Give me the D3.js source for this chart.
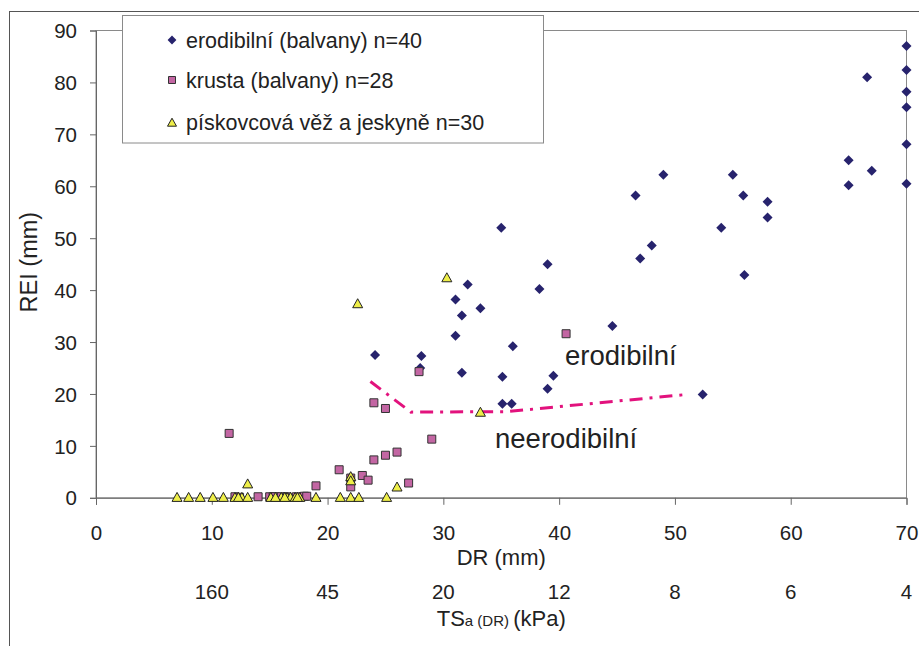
<!DOCTYPE html>
<html><head><meta charset="utf-8">
<script src="https://cdn.jsdelivr.net/npm/d3@7"></script>
<style>
html,body{margin:0;padding:0;background:#fff;}
svg{display:block;font-family:"Liberation Sans",Arial,sans-serif;}
</style></head>
<body>
<svg id="chart" width="919" height="646"></svg>
<script>
// ---- data ----
const erodibilni = [
  [70,87],[70,82.4],[70,78.2],[70,75.2],[70,68.1],[70,60.5],
  [66.6,81],[65,65],[67,63],[65,60.2],
  [49,62.2],[55,62.2],[46.6,58.2],[55.9,58.2],[58,57],[58,54],[54,52],[48,48.6],[47,46.1],
  [56,42.9],[35,52],
  [39,45],[38.3,40.2],[32.1,41.1],[31.05,38.2],[33.2,36.5],[31.6,35.1],[44.6,33.1],[31.05,31.2],
  [36,29.2],[24.1,27.5],[28.1,27.3],[31.6,24.1],[35.1,23.3],[39.5,23.5],[39,21],
  [35.1,18.1],[35.9,18.1],[52.4,19.9],[28,25]
];
const krusta = [
  [40.6,31.6],[27.9,24.3],[24,18.3],[25,17.2],[29,11.3],[24,7.3],[25,8.2],[26,8.8],
  [21,5.4],[23,4.3],[23.5,3.4],[22,2.1],[22,3.8],[27,2.85],[11.5,12.4],[19,2.3],
  [12,0.2],[14,0.2],[15,0.2],[15.5,0.2],[16,0.2],[16.5,0.2],[18,0.3],
  [12.4,0.1],[15.3,0.2],[16.3,0.1],[17.3,0.2],[18.2,0.3]
];
const piskovcova = [
  [7,0],[8,0],[9,0],[10.1,0],[11,0],[12,0],[12.6,0],[13.1,0],[15.1,0],[16,0],
  [16.5,0],[16.8,0],[17.2,0],[17.6,0],[19,0],[21.1,0],[22,0],[22.7,0],[25.1,0],
  [15.5,0],[12.3,0],[16.3,0],
  [13.1,2.6],[22,4.0],[22,3.2],[22.6,37.3],[30.3,42.3],[33.2,16.4],[26,2],[17.4,0]
];
const boundary = [[23.7,22.4],[27.2,16.5],[35.5,16.6],[51,19.9]];
const xTicks = [0,10,20,30,40,50,60,70];
const yTicks = [0,10,20,30,40,50,60,70,80,90];
const tsPositions = [10,20,30,40,50,60,70];
const tsLabels = ["160","45","20","12","8","6","4"];
const legendLabels = ["erodibilní (balvany) n=40","krusta (balvany) n=28","pískovcová věž a jeskyně n=30"];

// ---- drawing ----
const svg = d3.select("#chart");
const X0 = 96, X1 = 906.5, Y0 = 30.5, Y1 = 497.8;
const x = d3.scaleLinear().domain([0,70]).range([X0,X1]);
const y = d3.scaleLinear().domain([0,90]).range([Y1,Y0]);

// outer frame (cropped)
svg.append("line").attr("x1",9.5).attr("x2",9.5).attr("y1",11).attr("y2",646).attr("stroke","#555").attr("stroke-width",1);
svg.append("line").attr("x1",9).attr("x2",919).attr("y1",11.5).attr("y2",11.5).attr("stroke","#555").attr("stroke-width",1);

// plot area border
svg.append("rect").attr("x",X0).attr("y",Y0).attr("width",X1-X0).attr("height",Y1-Y0)
  .attr("fill","none").attr("stroke","#8a8a8a").attr("stroke-width",1);

// axes
const xAxis = svg.append("g").attr("transform",`translate(0,${Y1})`)
  .call(d3.axisBottom(x).tickValues(xTicks).tickSize(7).tickFormat(d3.format("d")));
const yAxis = svg.append("g").attr("transform",`translate(${X0},0)`)
  .call(d3.axisLeft(y).tickValues(yTicks).tickSize(6).tickFormat(d3.format("d")));
[xAxis,yAxis].forEach(g=>{
  g.select(".domain").attr("stroke","#666");
  g.selectAll(".tick line").attr("stroke","#666");
  g.selectAll("text").attr("font-size",20.5).attr("fill","#222").attr("font-family","Liberation Sans, Arial, sans-serif");
});
xAxis.selectAll("text").attr("y",null).attr("dy",null).attr("transform","translate(0,42)");
yAxis.selectAll("text").attr("x",-19).attr("dy","0.35em");

// secondary tick labels
svg.append("g").selectAll("text").data(tsPositions).join("text")
  .attr("x",d=>x(d)).attr("y",599).attr("text-anchor","middle")
  .attr("font-size",20.5).attr("fill","#222").text((d,i)=>tsLabels[i]);

// axis titles
svg.append("text").attr("x",(X0+X1)/2).attr("y",565).attr("text-anchor","middle")
  .attr("font-size",22).attr("fill","#222").text("DR (mm)");
const ts = svg.append("text").attr("x",(X0+X1)/2).attr("y",626).attr("text-anchor","middle")
  .attr("font-size",22).attr("fill","#222");
ts.append("tspan").text("TS");
ts.append("tspan").attr("font-size",15).text("a (DR) ");
ts.append("tspan").text("(kPa)");
svg.append("text").attr("transform",`translate(37,${(Y0+Y1)/2 - 2}) rotate(-90)`)
  .attr("text-anchor","middle").attr("font-size",23.5).attr("fill","#222").text("REI (mm)");

// legend
const lg = svg.append("g");
lg.append("rect").attr("x",122.5).attr("y",15.5).attr("width",421).attr("height",127.5)
  .attr("fill","#fff").attr("stroke","#8a8a8a");

// markers
const diamond = (cx,cy,r=5)=>`M${cx},${cy-r}L${cx+r},${cy}L${cx},${cy+r}L${cx-r},${cy}Z`;
const square = (cx,cy,s=8)=>`M${cx-s/2},${cy-s/2}h${s}v${s}h${-s}Z`;
const tri = (cx,cy,w=10,h=9)=>`M${cx},${cy-h*0.6}L${cx+w/2},${cy+h*0.4}L${cx-w/2},${cy+h*0.4}Z`;
const DCOL="#27236d", SCOL="#c366a3", TCOL="#eeee48";

const rows=[40,80,122];
lg.append("path").attr("d",diamond(172,rows[0],4.4)).attr("fill",DCOL);
lg.append("path").attr("d",square(172,rows[1],7)).attr("fill",SCOL).attr("stroke","#333").attr("stroke-width",1);
lg.append("path").attr("d",tri(172,rows[2]+1,9,8)).attr("fill",TCOL).attr("stroke","#222").attr("stroke-width",1);
lg.selectAll("text.l").data(legendLabels).join("text").attr("class","l")
  .attr("x",186).attr("y",(d,i)=>rows[i]+8).attr("font-size",21.5).attr("fill","#222").text(d=>d);

// boundary line
svg.append("path").datum(boundary)
  .attr("d",d3.line().x(d=>x(d[0])).y(d=>y(d[1])))
  .attr("fill","none").attr("stroke","#e2127d").attr("stroke-width",3)
  .attr("stroke-dasharray","13,7,3,7");

// annotations
svg.append("text").attr("x",565).attr("y",365).attr("font-size",27.5).attr("fill","#222").text("erodibilní");
svg.append("text").attr("x",495).attr("y",448).attr("font-size",27.5).attr("fill","#222").text("neerodibilní");

// points
svg.append("g").selectAll("path").data(erodibilni).join("path")
  .attr("d",d=>diamond(x(d[0]),y(d[1]))).attr("fill",DCOL);
svg.append("g").selectAll("path").data(krusta).join("path")
  .attr("d",d=>square(x(d[0]),y(d[1]))).attr("fill",SCOL).attr("stroke","#333").attr("stroke-width",1);
svg.append("g").selectAll("path").data(piskovcova).join("path")
  .attr("d",d=>tri(x(d[0]),y(d[1]))).attr("fill",TCOL).attr("stroke","#222").attr("stroke-width",1);
</script>
</body></html>
